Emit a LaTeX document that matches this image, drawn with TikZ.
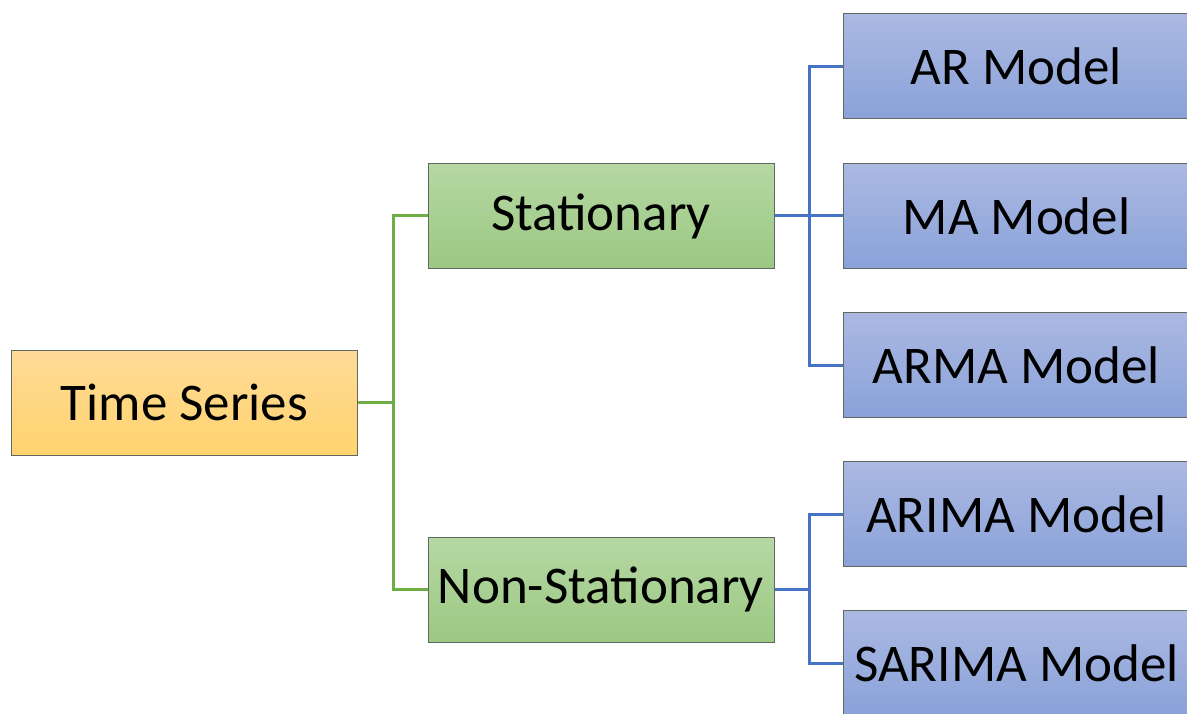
\documentclass[tikz,border=0pt]{standalone}
\usepackage{fontspec}
\setmainfont{Carlito}
\definecolor{orgtop}{RGB}{255,218,152}
\definecolor{orgbot}{RGB}{255,212,110}
\definecolor{grntop}{RGB}{182,216,164}
\definecolor{grnbot}{RGB}{155,200,130}
\definecolor{blutop}{RGB}{171,185,226}
\definecolor{blubot}{RGB}{138,162,217}
\definecolor{boxedge}{RGB}{95,105,95}
\definecolor{grnline}{RGB}{112,173,71}
\definecolor{bluline}{RGB}{68,114,196}
\tikzset{
  x=1pt, y=-1pt,
  box/.style={draw=boxedge, line width=1pt, minimum width=346pt, minimum height=105pt,
    inner sep=0pt, font=\fontsize{53}{60}\selectfont, text=black},
  rootbox/.style={box, top color=orgtop, bottom color=orgbot},
  catbox/.style={box, top color=grntop, bottom color=grnbot},
  modelbox/.style={box, top color=blutop, bottom color=blubot},
  glink/.style={draw=grnline, line width=3pt},
  blink/.style={draw=bluline, line width=3pt},
}
\begin{document}
\begin{tikzpicture}
\useasboundingbox (0,0) rectangle (1187,714);
\clip (0,0) rectangle (1187,714);
\fill[white] (0,0) rectangle (1187,714);

% x positions of the vertical trunks of the tree
\coordinate (gx) at (393,0);
\coordinate (sx) at (809,0);
\coordinate (nx) at (809,0);

\node[rootbox] (ts) at (184.5,402.5) {Time Series};
\node[catbox] (st) at (601,216) {Stationary};
\node[catbox] (ns) at (601,589.5) {Non-Stationary};
\node[modelbox] (ar) at (1016.5,66.5) {AR Model};
\node[modelbox] (ma) at (1016.5,216) {MA Model};
\node[modelbox] (arma) at (1016.5,365) {ARMA Model};
\node[modelbox] (arima) at (1016.5,514) {ARIMA Model};
\node[modelbox] (sarima) at (1016.5,663) {SARIMA Model};

% root to categories
\draw[glink] (ts.east) -- (gx |- ts.east);
\draw[glink] (st.west) -| (gx |- ts.east) |- (ns.west);

% stationary models
\draw[blink] (st.east) -- (ma.west);
\draw[blink] (ar.west) -| (sx |- st.east) |- (arma.west);

% non-stationary models
\draw[blink] (ns.east) -- (nx |- ns.east);
\draw[blink] (arima.west) -| (nx |- ns.east) |- (sarima.west);
\end{tikzpicture}
\end{document}
